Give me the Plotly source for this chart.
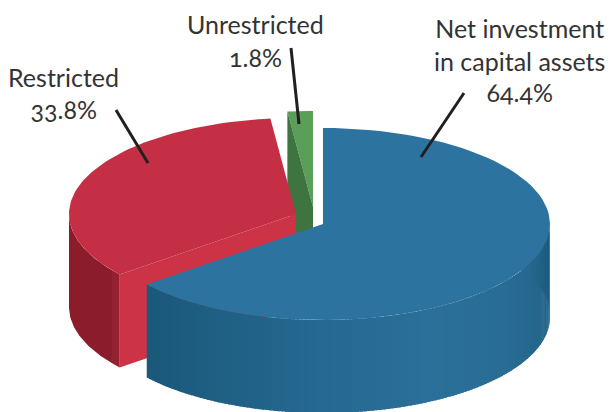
import math
import plotly.graph_objects as go

categories = ["Net investment<br>in capital assets", "Restricted", "Unrestricted"]
shares = [64.4, 33.8, 1.8]

W, H = 610, 412
RX, RY, DEPTH = 227, 96, 93
CENTERS = {"blue": (323, 224), "red": (296, 214), "green": (313, 207)}
PROJECTION_TWEAK = -0.9  # degrees; the drawn ellipse is not a perfect projection

fig = go.Figure()


def poly(xs, ys, color):
    fig.add_trace(go.Scatter(x=xs, y=ys, mode="lines", fill="toself", fillcolor=color,
                             line=dict(color=color, width=0), hoverinfo="skip", showlegend=False))


def rim(c, deg):
    a = math.radians(deg)
    return c[0] + RX * math.sin(a), c[1] - RY * math.cos(a)


def arc(c, a0, a1, n=80):
    return [rim(c, a0 + (a1 - a0) * i / n) for i in range(n + 1)]


def sector(c, a0, a1, color):
    pts = [c] + arc(c, a0, a1)
    poly([p[0] for p in pts], [p[1] for p in pts], color)


def band(c, a0, a1, color):
    top = arc(c, a0, a1, 50)
    bottom = [(x, y + DEPTH) for x, y in reversed(top)]
    pts = top + bottom
    poly([p[0] for p in pts], [p[1] for p in pts], color)


def mix(stops, v):
    for (x0, c0), (x1, c1) in zip(stops, stops[1:]):
        if v <= x1:
            t = max(0, (v - x0) / (x1 - x0))
            return "rgb(%d,%d,%d)" % tuple(round(p + (q - p) * t) for p, q in zip(c0, c1))
    return "rgb(%d,%d,%d)" % stops[-1][1]


def side(c, a0, a1, stops, n):
    # painted from the far end, each strip overlapping the previous one
    for i in range(n):
        p = rim(c, a0 + (a1 - a0) * i / n)
        q = rim(c, a0 + (a1 - a0) * (i + 1.6) / n)
        m = rim(c, a0 + (a1 - a0) * (i + 0.5) / n)
        poly([p[0], q[0], q[0], p[0]], [p[1], q[1], q[1] + DEPTH, p[1] + DEPTH], mix(stops, m[0]))


# slice angles, clockwise from 12 o'clock, derived from the shares
a_blue = shares[0] * 3.6 + PROJECTION_TWEAK
a_red = a_blue - PROJECTION_TWEAK + shares[1] * 3.6
a_green = a_red + shares[2] * 3.6

# green slice (behind everything)
gc = CENTERS["green"]
g0 = rim(gc, a_red)
sector(gc, a_red, a_green, "#5b9e58")
poly([g0[0], gc[0], gc[0], g0[0]], [g0[1], gc[1], gc[1] + DEPTH, g0[1] + DEPTH], "#3d7440")

# red slice
rc = CENTERS["red"]
r0 = rim(rc, a_blue)
band(rc, 270, a_blue + 2.8, "#8a1c2b")
band(rc, a_blue + 2.8, a_blue, "#962030")
poly([r0[0], rc[0], rc[0], r0[0]], [r0[1], rc[1], rc[1] + DEPTH, r0[1] + DEPTH], "#cc3347")
sector(rc, a_blue, a_red, "#c42f45")

# blue slice
bc = CENTERS["blue"]
blue_stops = [(147, (27, 88, 122)), (240, (32, 98, 134)), (320, (38, 105, 145)),
              (430, (43, 112, 154)), (500, (41, 109, 149)), (550, (36, 100, 137))]
side(bc, a_blue, 90, blue_stops, 140)

# darker crease on the right flank
crease = [(521 + 28 * math.sin(t / 20 * math.pi / 2), 270 + 37 * t / 20) for t in range(21)]
for i in range(20):
    p, q = crease[i], crease[min(i + 2, 20)]
    poly([p[0], q[0], q[0], p[0]], [p[1], q[1], 224, 224],
         mix([(521, (41, 108, 146)), (549, (29, 92, 128))], p[0]))

sector(bc, 0, a_blue, "#2c739f")

# leaders
leaders = [((464, 93), (421, 157)), ((116, 110), (148, 163)), ((291, 48), (299, 124))]
for a, b in leaders:
    fig.add_trace(go.Scatter(x=[a[0], b[0]], y=[a[1], b[1]], mode="lines",
                             line=dict(color="#231f20", width=3), hoverinfo="skip", showlegend=False))

label_pos = [(519, 44), (63, 77), (255, 24)]
pct_y = [92, 109, 57]
for name, v, (x, y), py in zip(categories, shares, label_pos, pct_y):
    fig.add_annotation(x=x, y=y, text=name, showarrow=False, xanchor="center", yanchor="middle",
                       font=dict(family="Lato", size=25, color="#333333"))
    fig.add_annotation(x=x, y=py, text=f"{v}%", showarrow=False, xanchor="center", yanchor="middle",
                       font=dict(family="Lato", size=25, color="#333333"))

fig.update_layout(width=W, height=H, margin=dict(l=0, r=0, t=0, b=0), plot_bgcolor="white",
                  paper_bgcolor="white", showlegend=False,
                  xaxis=dict(range=[0, W], visible=False, fixedrange=True),
                  yaxis=dict(range=[H, 0], visible=False, fixedrange=True))
fig.write_html("out.html", config={"displayModeBar": False},
               post_script="document.body.style.margin='0';"
                           "var s=document.createElement('style');"
                           "s.textContent='svg text{font-feature-settings:\"onum\" 1}';"
                           "document.head.appendChild(s);"
                           "Plotly.Plots.resize(document.querySelector('.plotly-graph-div'));")
